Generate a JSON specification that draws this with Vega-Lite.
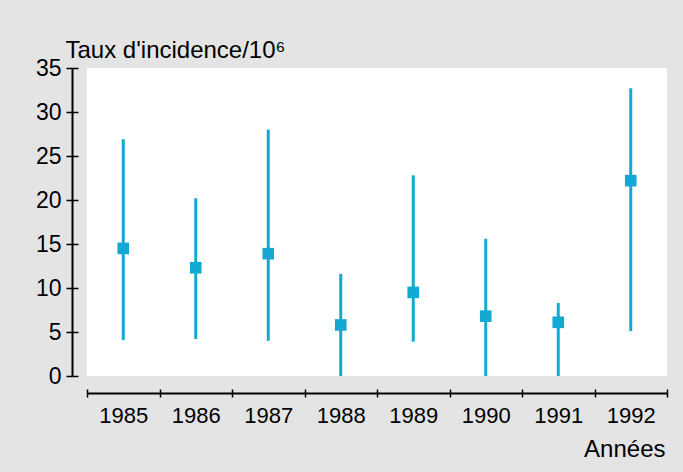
{
  "$schema": "https://vega.github.io/schema/vega-lite/v6.json",
  "width": 580,
  "height": 308,
  "autosize": "none",
  "padding": {"left": 87, "top": 68, "right": 16, "bottom": 96},
  "background": "#e4e4e4",
  "config": {
    "view": {"fill": "white", "stroke": null},
    "font": "Liberation Sans",
    "axis": {
      "domainColor": "black",
      "tickColor": "black",
      "labelColor": "black",
      "titleColor": "black",
      "labelFont": "Liberation Sans",
      "titleFont": "Liberation Sans",
      "labelFontSize": 22,
      "titleFontSize": 24,
      "titleFontWeight": "normal",
      "grid": false,
      "domainWidth": 2,
      "tickWidth": 1.5
    }
  },
  "data": {
    "values": [
      {"year": "1985", "value": 14.5, "low": 4.1, "high": 26.9},
      {"year": "1986", "value": 12.3, "low": 4.2, "high": 20.2},
      {"year": "1987", "value": 13.9, "low": 4.0, "high": 28.0},
      {"year": "1988", "value": 5.8, "low": 0.0, "high": 11.6},
      {"year": "1989", "value": 9.5, "low": 3.9, "high": 22.8},
      {"year": "1990", "value": 6.8, "low": 0.0, "high": 15.6},
      {"year": "1991", "value": 6.1, "low": 0.0, "high": 8.3},
      {"year": "1992", "value": 22.2, "low": 5.1, "high": 32.7}
    ]
  },
  "resolve": {"axis": {"x": "independent", "y": "independent"}},
  "layer": [
    {
      "mark": {"type": "rule", "color": "#14a9d2", "strokeWidth": 3},
      "encoding": {
        "x": {
          "field": "year", "type": "ordinal",
          "scale": {"paddingInner": 0, "paddingOuter": 0},
          "axis": {
            "orient": "bottom", "offset": 17, "tickBand": "extent",
            "tickSize": 4, "labelPadding": 8, "labelAngle": 0,
            "title": "Années", "titleAlign": "right", "titleBaseline": "alphabetic",
            "titleX": 578, "titleY": 63, "titleAnchor": null
          }
        },
        "y": {
          "field": "low", "type": "quantitative",
          "scale": {"domain": [0, 35], "nice": false},
          "axis": {
            "orient": "left", "offset": 15, "values": [0, 5, 10, 15, 20, 25, 30, 35],
            "tickSize": 6, "labelPadding": 5, "labelFontSize": 23,
            "title": "Taux d'incidence/10⁶", "titleAngle": 0, "titleAlign": "left",
            "titleBaseline": "alphabetic", "titleX": -7, "titleY": -11, "titleAnchor": null
          }
        },
        "y2": {"field": "high"}
      }
    },
    {
      "mark": {"type": "point", "shape": "square", "filled": true, "opacity": 1, "color": "#14a9d2", "size": 135},
      "encoding": {
        "x": {
          "field": "year", "type": "ordinal",
          "axis": {
            "orient": "bottom", "offset": 17, "tickBand": "extent",
            "tickSize": -4, "labels": false, "domain": false, "title": null
          }
        },
        "y": {
          "field": "value", "type": "quantitative",
          "axis": {
            "orient": "left", "offset": 15, "values": [0, 5, 10, 15, 20, 25, 30, 35],
            "tickSize": -6, "labels": false, "domain": false, "title": null
          }
        }
      }
    }
  ]
}
